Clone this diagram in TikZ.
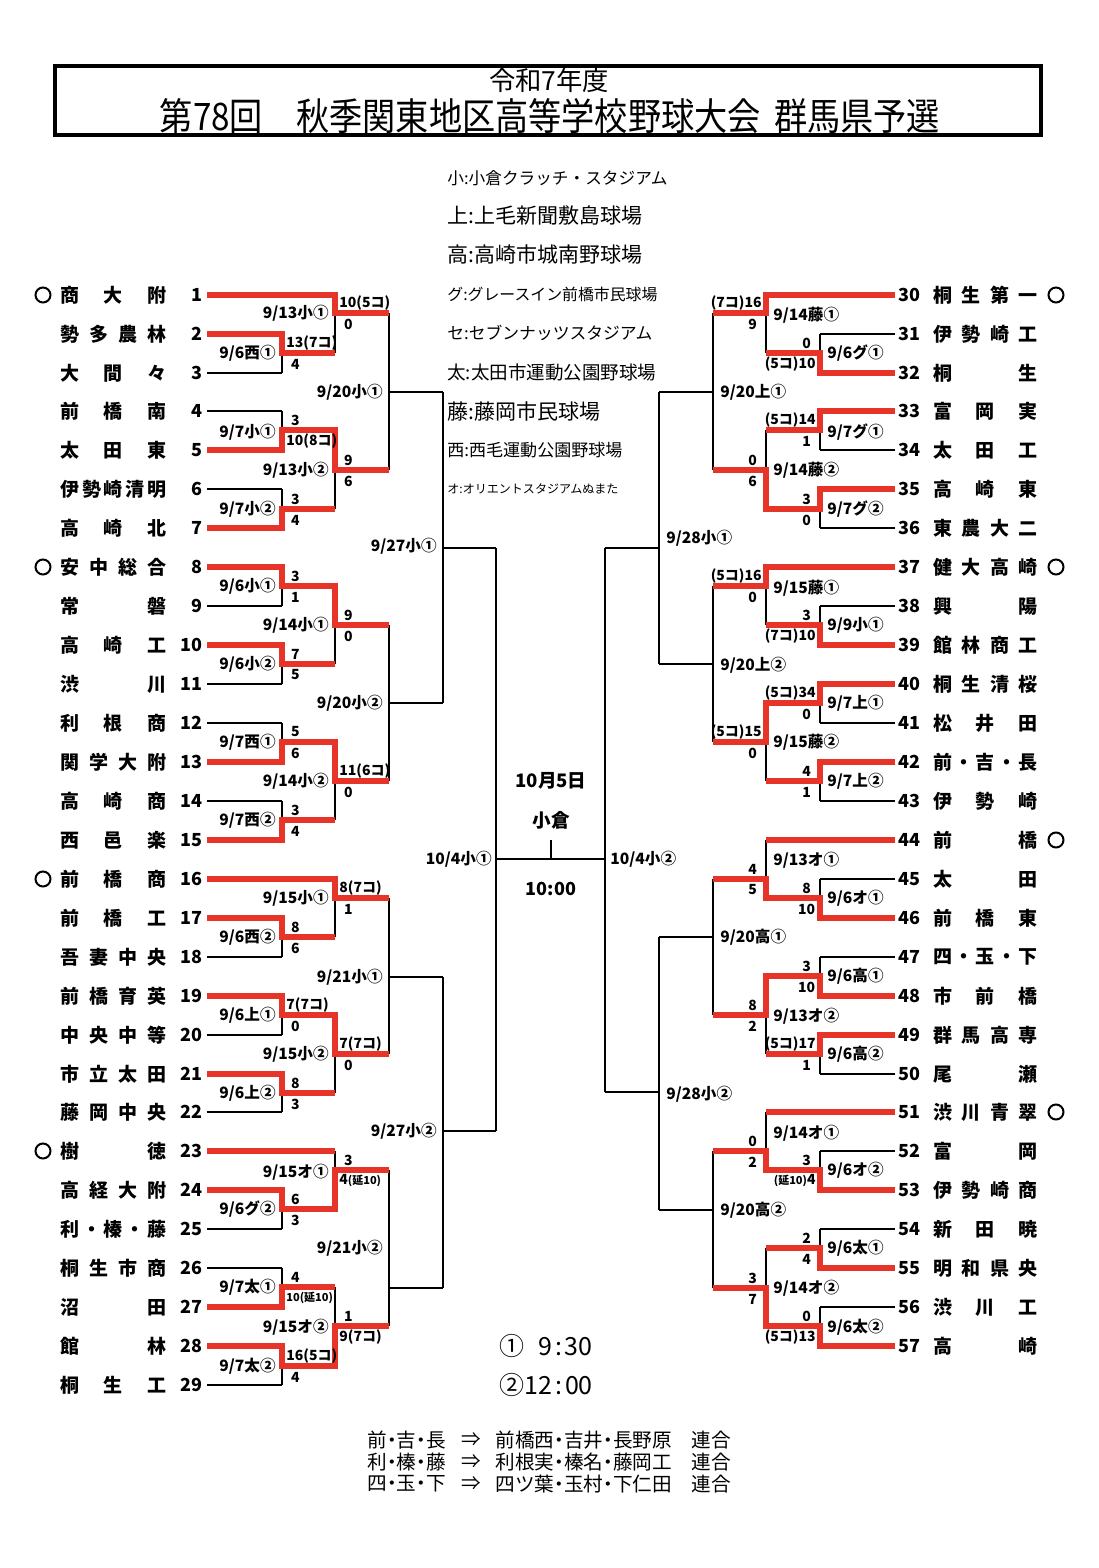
\documentclass[tikz,border=0pt]{standalone}
\usepackage{fontspec}
\usepackage{graphicx}
\setmainfont{Noto Sans CJK JP}
\definecolor{wr}{RGB}{230,52,40}
\newcounter{nn}
\makeatletter
\def\spr#1{\spr@a#1\@nil}
\def\spr@a#1#2\@nil{#1\if\relax\detokenize{#2}\relax\else\hfill\spr@a#2\@nil\fi}
\makeatother
\newcommand\smallp{\fontsize{5.5pt}{6pt}\selectfont}
\newcommand\nd{\hspace{-0.25em}・\hspace{-0.25em}}
\tikzset{
  auton/.code={\stepcounter{nn}\pgfkeysalso{name=an\arabic{nn}}},
  br/.style={line width=0.8pt,black},
  win/.style={line width=2.6pt,wr,line join=miter},
  nm/.style={inner sep=0pt,auton,font=\fontsize{9.5pt}{10pt}\selectfont\bfseries},
  num/.style={inner sep=0pt,auton,font=\fontsize{9pt}{10pt}\selectfont\bfseries},
  sc/.style={inner sep=0pt,auton,minimum width=9pt,font=\fontsize{7pt}{8pt}\selectfont\bfseries},
  lb/.style={inner sep=0pt,auton,font=\fontsize{7.8pt}{9pt}\selectfont\bfseries},
  lg/.style={inner sep=0pt,auton,anchor=west},
  ft/.style={inner sep=0pt,auton,font=\fontsize{9.8pt}{10pt}\selectfont},
  seedmark/.style={draw,circle,line width=1pt,minimum size=7.5pt,inner sep=0pt,auton},
}
\newcommand\mt[5]{\draw[br] (#1,#2)--(#1,#3) (#1,#4)--(#5,#4);}
\newcommand\lteam[3]{\node[nm,anchor=west] at (60,#1) {\makebox[53pt]{\spr{#3}}};
  \node[num,anchor=east] at (203,#1) {#2};}
\newcommand\rteam[3]{\node[num,anchor=west] at (898,#1) {#2};
  \node[nm,anchor=west] at (933,#1) {\makebox[52pt]{\spr{#3}}};}
\newcommand\SL[4]{\node[sc,anchor=west] at ({#1+4},{#2-10}) {#3};
  \node[sc,anchor=west] at ({#1+4},{#2+11}) {#4};}
\newcommand\SR[4]{\node[sc,anchor=east] at ({#1-4},{#2-10}) {#3};
  \node[sc,anchor=east] at ({#1-4},{#2+11}) {#4};}
\newcommand\LL[3]{\node[lb,anchor=east] at ({#1-6},#2) {#3};}
\newcommand\LR[3]{\node[lb,anchor=west] at ({#1+7},#2) {#3};}
\newcommand\fline[3]{% y, short, long
  \node[ft,anchor=west] at (367,#1) {#2};
  \node[ft] at (471,#1) {⇒};
  \node[ft,anchor=west] at (495,#1) {#3};
  \node[ft,anchor=west] at (691,#1) {連合};}
\begin{document}
\begin{tikzpicture}[x=0.5pt,y=-0.5pt]
\fill[white] (0,0) rectangle (1098,1568);
\useasboundingbox (0,0) rectangle (1098,1568);
% header
\draw[line width=2pt] (55,66) rectangle (1041,135);
\node[inner sep=0pt,auton] at (549,80) {\resizebox{60pt}{!}{令和7年度}};
\node[inner sep=0pt,auton] at (550,116) {\resizebox{390pt}{16pt}{第78回\hspace{1em}秋季関東地区高等学校野球大会\hspace{0.4em}群馬県予選}};
% legend
\node[lg] at (447,178) {\resizebox{110pt}{!}{小:小倉クラッチ・スタジアム}};
\node[lg] at (447,216) {\resizebox{97.5pt}{!}{上:上毛新聞敷島球場}};
\node[lg] at (447,255) {\resizebox{97.5pt}{!}{高:高崎市城南野球場}};
\node[lg] at (447,294) {\resizebox{105pt}{!}{グ:グレースイン前橋市民球場}};
\node[lg] at (447,333) {\resizebox{102.5pt}{!}{セ:セブンナッツスタジアム}};
\node[lg] at (447,372) {\resizebox{104.5pt}{!}{太:太田市運動公園野球場}};
\node[lg] at (447,411) {\resizebox{76.5pt}{!}{藤:藤岡市民球場}};
\node[lg] at (447,450) {\resizebox{87.5pt}{!}{西:西毛運動公園野球場}};
\node[lg] at (447,489) {\resizebox{85.5pt}{!}{オ:オリエントスタジアムぬまた}};
% ---------- black skeleton, left
\draw[br]
(207,295)--(335,295)
(207,334)--(282,334) (207,373)--(282,373)
(207,411)--(282,411) (207,450)--(282,450)
(207,489)--(282,489) (207,528)--(282,528)
(207,567)--(282,567) (207,606)--(282,606)
(207,645)--(282,645) (207,684)--(282,684)
(207,723)--(282,723) (207,762)--(282,762)
(207,801)--(282,801) (207,840)--(282,840)
(207,879)--(335,879)
(207,918)--(282,918) (207,957)--(282,957)
(207,996)--(282,996) (207,1035)--(282,1035)
(207,1074)--(282,1074) (207,1112)--(282,1112)
(207,1151)--(335,1151)
(207,1190)--(282,1190) (207,1229)--(282,1229)
(207,1268)--(282,1268) (207,1307)--(282,1307)
(207,1346)--(282,1346) (207,1385)--(282,1385);
\mt{282}{334}{373}{353}{335}
\mt{335}{295}{353}{313}{389}
\mt{282}{411}{450}{430}{335}
\mt{282}{489}{528}{509}{335}
\mt{335}{430}{509}{470}{389}
\mt{389}{313}{470}{392}{443}
\mt{282}{567}{606}{586}{335}
\mt{282}{645}{684}{664}{335}
\mt{335}{586}{664}{625}{389}
\mt{282}{723}{762}{742}{335}
\mt{282}{801}{840}{820}{335}
\mt{335}{742}{820}{781}{389}
\mt{389}{625}{781}{703}{443}
\mt{443}{392}{703}{548}{496}
\mt{282}{918}{957}{937}{335}
\mt{335}{879}{937}{898}{389}
\mt{282}{996}{1035}{1015}{335}
\mt{282}{1074}{1112}{1093}{335}
\mt{335}{1015}{1093}{1054}{389}
\mt{389}{898}{1054}{977}{443}
\mt{282}{1190}{1229}{1209}{335}
\mt{335}{1151}{1209}{1170}{389}
\mt{282}{1268}{1307}{1287}{335}
\mt{282}{1346}{1385}{1366}{335}
\mt{335}{1287}{1366}{1326}{389}
\mt{389}{1170}{1326}{1288}{443}
\mt{443}{977}{1288}{1131}{496}
\mt{496}{548}{1131}{859}{551}
% ---------- black skeleton, right
\draw[br]
(895,295)--(766,295)
(895,334)--(820,334) (895,373)--(820,373)
(895,411)--(820,411) (895,450)--(820,450)
(895,489)--(820,489) (895,528)--(820,528)
(895,567)--(766,567)
(895,606)--(820,606) (895,645)--(820,645)
(895,684)--(820,684) (895,723)--(820,723)
(895,762)--(820,762) (895,801)--(820,801)
(895,840)--(766,840)
(895,879)--(820,879) (895,918)--(820,918)
(895,957)--(820,957) (895,996)--(820,996)
(895,1035)--(820,1035) (895,1074)--(820,1074)
(895,1112)--(766,1112)
(895,1151)--(820,1151) (895,1190)--(820,1190)
(895,1229)--(820,1229) (895,1268)--(820,1268)
(895,1307)--(820,1307) (895,1346)--(820,1346);
\mt{820}{334}{373}{353}{766}
\mt{766}{295}{353}{313}{713}
\mt{820}{411}{450}{430}{766}
\mt{820}{489}{528}{509}{766}
\mt{766}{430}{509}{470}{713}
\mt{713}{313}{470}{392}{659}
\mt{820}{606}{645}{625}{766}
\mt{766}{567}{625}{586}{713}
\mt{820}{684}{723}{703}{766}
\mt{820}{762}{801}{781}{766}
\mt{766}{703}{781}{742}{713}
\mt{713}{586}{742}{664}{659}
\mt{659}{392}{664}{548}{605}
\mt{820}{879}{918}{898}{766}
\mt{766}{840}{898}{879}{713}
\mt{820}{957}{996}{976}{766}
\mt{820}{1035}{1074}{1054}{766}
\mt{766}{976}{1054}{1015}{713}
\mt{713}{879}{1015}{937}{659}
\mt{820}{1151}{1190}{1170}{766}
\mt{766}{1112}{1170}{1151}{713}
\mt{820}{1229}{1268}{1248}{766}
\mt{820}{1307}{1346}{1326}{766}
\mt{766}{1248}{1326}{1288}{713}
\mt{713}{1151}{1288}{1210}{659}
\mt{659}{937}{1210}{1092}{605}
\mt{605}{548}{1092}{859}{551}
\draw[br] (551,840)--(551,859);
% ---------- red winner paths, left
\draw[win] (207,295)--(335,295)--(335,313)--(389,313);
\draw[win] (207,334)--(282,334)--(282,353)--(335,353);
\draw[win] (207,450)--(282,450)--(282,430)--(335,430)--(335,470)--(389,470);
\draw[win] (207,528)--(282,528)--(282,509)--(335,509);
\draw[win] (207,567)--(282,567)--(282,586)--(335,586)--(335,625)--(389,625);
\draw[win] (207,645)--(282,645)--(282,664)--(335,664);
\draw[win] (207,762)--(282,762)--(282,742)--(335,742)--(335,781)--(389,781);
\draw[win] (207,840)--(282,840)--(282,820)--(335,820);
\draw[win] (207,879)--(335,879)--(335,898)--(389,898);
\draw[win] (207,918)--(282,918)--(282,937)--(335,937);
\draw[win] (207,996)--(282,996)--(282,1015)--(335,1015)--(335,1054)--(389,1054);
\draw[win] (207,1074)--(282,1074)--(282,1093)--(335,1093);
\draw[win] (207,1151)--(335,1151);
\draw[win] (207,1190)--(282,1190)--(282,1209)--(335,1209)--(335,1170)--(389,1170);
\draw[win] (207,1307)--(282,1307)--(282,1287)--(335,1287);
\draw[win] (207,1346)--(282,1346)--(282,1366)--(335,1366)--(335,1326)--(389,1326);
% ---------- red winner paths, right
\draw[win] (895,295)--(766,295)--(766,313)--(713,313);
\draw[win] (895,373)--(820,373)--(820,353)--(766,353);
\draw[win] (895,411)--(820,411)--(820,430)--(766,430);
\draw[win] (895,489)--(820,489)--(820,509)--(766,509)--(766,470)--(713,470);
\draw[win] (895,567)--(766,567)--(766,586)--(713,586);
\draw[win] (895,645)--(820,645)--(820,625)--(766,625);
\draw[win] (895,684)--(820,684)--(820,703)--(766,703)--(766,742)--(713,742);
\draw[win] (895,762)--(820,762)--(820,781)--(766,781);
\draw[win] (895,840)--(766,840);
\draw[win] (895,918)--(820,918)--(820,898)--(766,898)--(766,879)--(713,879);
\draw[win] (895,996)--(820,996)--(820,976)--(766,976)--(766,1015)--(713,1015);
\draw[win] (895,1035)--(820,1035)--(820,1054)--(766,1054);
\draw[win] (895,1112)--(766,1112);
\draw[win] (895,1190)--(820,1190)--(820,1170)--(766,1170)--(766,1151)--(713,1151);
\draw[win] (895,1268)--(820,1268)--(820,1248)--(766,1248);
\draw[win] (895,1346)--(820,1346)--(820,1326)--(766,1326)--(766,1288)--(713,1288);
% ---------- teams left
\lteam{295}{1}{商大附}
\lteam{334}{2}{勢多農林}
\lteam{373}{3}{大間々}
\lteam{411}{4}{前橋南}
\lteam{450}{5}{太田東}
\lteam{489}{6}{伊勢崎清明}
\lteam{528}{7}{高崎北}
\lteam{567}{8}{安中総合}
\lteam{606}{9}{常磐}
\lteam{645}{10}{高崎工}
\lteam{684}{11}{渋川}
\lteam{723}{12}{利根商}
\lteam{762}{13}{関学大附}
\lteam{801}{14}{高崎商}
\lteam{840}{15}{西邑楽}
\lteam{879}{16}{前橋商}
\lteam{918}{17}{前橋工}
\lteam{957}{18}{吾妻中央}
\lteam{996}{19}{前橋育英}
\lteam{1035}{20}{中央中等}
\lteam{1074}{21}{市立太田}
\lteam{1112}{22}{藤岡中央}
\lteam{1151}{23}{樹徳}
\lteam{1190}{24}{高経大附}
\lteam{1229}{25}{利・榛・藤}
\lteam{1268}{26}{桐生市商}
\lteam{1307}{27}{沼田}
\lteam{1346}{28}{館林}
\lteam{1385}{29}{桐生工}
% ---------- teams right
\rteam{295}{30}{桐生第一}
\rteam{334}{31}{伊勢崎工}
\rteam{373}{32}{桐生}
\rteam{411}{33}{富岡実}
\rteam{450}{34}{太田工}
\rteam{489}{35}{高崎東}
\rteam{528}{36}{東農大二}
\rteam{567}{37}{健大高崎}
\rteam{606}{38}{興陽}
\rteam{645}{39}{館林商工}
\rteam{684}{40}{桐生清桜}
\rteam{723}{41}{松井田}
\rteam{762}{42}{前・吉・長}
\rteam{801}{43}{伊勢崎}
\rteam{840}{44}{前橋}
\rteam{879}{45}{太田}
\rteam{918}{46}{前橋東}
\rteam{957}{47}{四・玉・下}
\rteam{996}{48}{市前橋}
\rteam{1035}{49}{群馬高専}
\rteam{1074}{50}{尾瀬}
\rteam{1112}{51}{渋川青翠}
\rteam{1151}{52}{富岡}
\rteam{1190}{53}{伊勢崎商}
\rteam{1229}{54}{新田暁}
\rteam{1268}{55}{明和県央}
\rteam{1307}{56}{渋川工}
\rteam{1346}{57}{高崎}
% seed marks
\foreach \yy in {295,567,879,1151} {\node[seedmark] at (43,\yy) {};}
\foreach \yy in {295,567,840,1112} {\node[seedmark] at (1056,\yy) {};}
% ---------- scores left
\SL{282}{353}{13(7コ)}{4}
\SL{335}{313}{10(5コ)}{0}
\SL{282}{430}{3}{10(8コ)}
\SL{282}{509}{3}{4}
\SL{335}{470}{9}{6}
\SL{282}{586}{3}{1}
\SL{282}{664}{7}{5}
\SL{335}{625}{9}{0}
\SL{282}{742}{5}{6}
\SL{282}{820}{3}{4}
\SL{335}{781}{11(6コ)}{0}
\SL{335}{898}{8(7コ)}{1}
\SL{282}{937}{8}{6}
\SL{282}{1015}{7(7コ)}{0}
\SL{282}{1093}{8}{3}
\SL{335}{1054}{7(7コ)}{0}
\SL{335}{1170}{3}{4{\smallp(延10)}}
\SL{282}{1209}{6}{3}
\SL{282}{1287}{4}{{\smallp 10(延10)}}
\SL{282}{1366}{16(5コ)}{4}
\SL{335}{1326}{1}{9(7コ)}
% ---------- scores right
\SR{766}{313}{(7コ)16}{9}
\SR{820}{353}{0}{(5コ)10}
\SR{820}{430}{(5コ)14}{1}
\SR{766}{470}{0}{6}
\SR{820}{509}{3}{0}
\SR{766}{586}{(5コ)16}{0}
\SR{820}{625}{3}{(7コ)10}
\SR{820}{703}{(5コ)34}{0}
\SR{766}{742}{(5コ)15}{0}
\SR{820}{781}{4}{1}
\SR{766}{879}{4}{5}
\SR{820}{898}{8}{10}
\SR{820}{976}{3}{10}
\SR{766}{1015}{8}{2}
\SR{820}{1054}{(5コ)17}{1}
\SR{766}{1151}{0}{2}
\SR{820}{1170}{3}{{\smallp(延10)}4}
\SR{820}{1248}{2}{4}
\SR{766}{1288}{3}{7}
\SR{820}{1326}{0}{(5コ)13}
% ---------- match labels left
\LL{282}{353}{9/6西①}
\LL{335}{313}{9/13小①}
\LL{282}{432}{9/7小①}
\LL{282}{509}{9/7小②}
\LL{335}{470}{9/13小②}
\LL{389}{392}{9/20小①}
\LL{443}{546}{9/27小①}
\LL{282}{586}{9/6小①}
\LL{282}{664}{9/6小②}
\LL{335}{625}{9/14小①}
\LL{282}{742}{9/7西①}
\LL{282}{820}{9/7西②}
\LL{335}{781}{9/14小②}
\LL{389}{703}{9/20小②}
\LL{335}{898}{9/15小①}
\LL{282}{937}{9/6西②}
\LL{282}{1015}{9/6上①}
\LL{282}{1093}{9/6上②}
\LL{335}{1054}{9/15小②}
\LL{389}{977}{9/21小①}
\LL{443}{1131}{9/27小②}
\LL{335}{1172}{9/15オ①}
\LL{282}{1209}{9/6グ②}
\LL{282}{1287}{9/7太①}
\LL{282}{1366}{9/7太②}
\LL{335}{1327}{9/15オ②}
\LL{389}{1248}{9/21小②}
\LL{498}{859}{10/4小①}
% ---------- match labels right
\LR{766}{315}{9/14藤①}
\LR{820}{353}{9/6グ①}
\LR{713}{392}{9/20上①}
\LR{820}{432}{9/7グ①}
\LR{766}{470}{9/14藤②}
\LR{820}{509}{9/7グ②}
\LR{659}{538}{9/28小①}
\LR{766}{588}{9/15藤①}
\LR{820}{625}{9/9小①}
\LR{713}{665}{9/20上②}
\LR{820}{703}{9/7上①}
\LR{766}{742}{9/15藤②}
\LR{820}{781}{9/7上②}
\LR{766}{860}{9/13オ①}
\LR{820}{898}{9/6オ①}
\LR{713}{937}{9/20高①}
\LR{820}{976}{9/6高①}
\LR{766}{1016}{9/13オ②}
\LR{820}{1054}{9/6高②}
\LR{659}{1094}{9/28小②}
\LR{766}{1133}{9/14オ①}
\LR{820}{1170}{9/6オ②}
\LR{713}{1210}{9/20高②}
\LR{820}{1248}{9/6太①}
\LR{766}{1288}{9/14オ②}
\LR{820}{1327}{9/6太②}
\LR{603}{859}{10/4小②}
% ---------- final
\node[lb,font=\fontsize{9.3pt}{10pt}\selectfont\bfseries] at (551,781) {10月5日};
\node[lb,font=\fontsize{9.3pt}{10pt}\selectfont\bfseries] at (551,820) {小倉};
\node[lb,font=\fontsize{9pt}{10pt}\selectfont\bfseries] at (551,889) {10:00};
% ---------- times
\node[inner sep=0pt,auton,anchor=west,font=\fontsize{12.5pt}{13pt}\selectfont] at (499,1346) {①\hspace{0.55em}9\hspace{0.12em}:\hspace{0.12em}30};
\node[inner sep=0pt,auton,anchor=west,font=\fontsize{12.5pt}{13pt}\selectfont] at (499,1385) {②12\hspace{0.12em}:\hspace{0.12em}00};
% ---------- footnotes
\fline{1440}{前\nd 吉\nd 長}{前橋西\nd 吉井\nd 長野原}
\fline{1462}{利\nd 榛\nd 藤}{利根実\nd 榛名\nd 藤岡工}
\fline{1484}{四\nd 玉\nd 下}{四ツ葉\nd 玉村\nd 下仁田}
\end{tikzpicture}
\end{document}
